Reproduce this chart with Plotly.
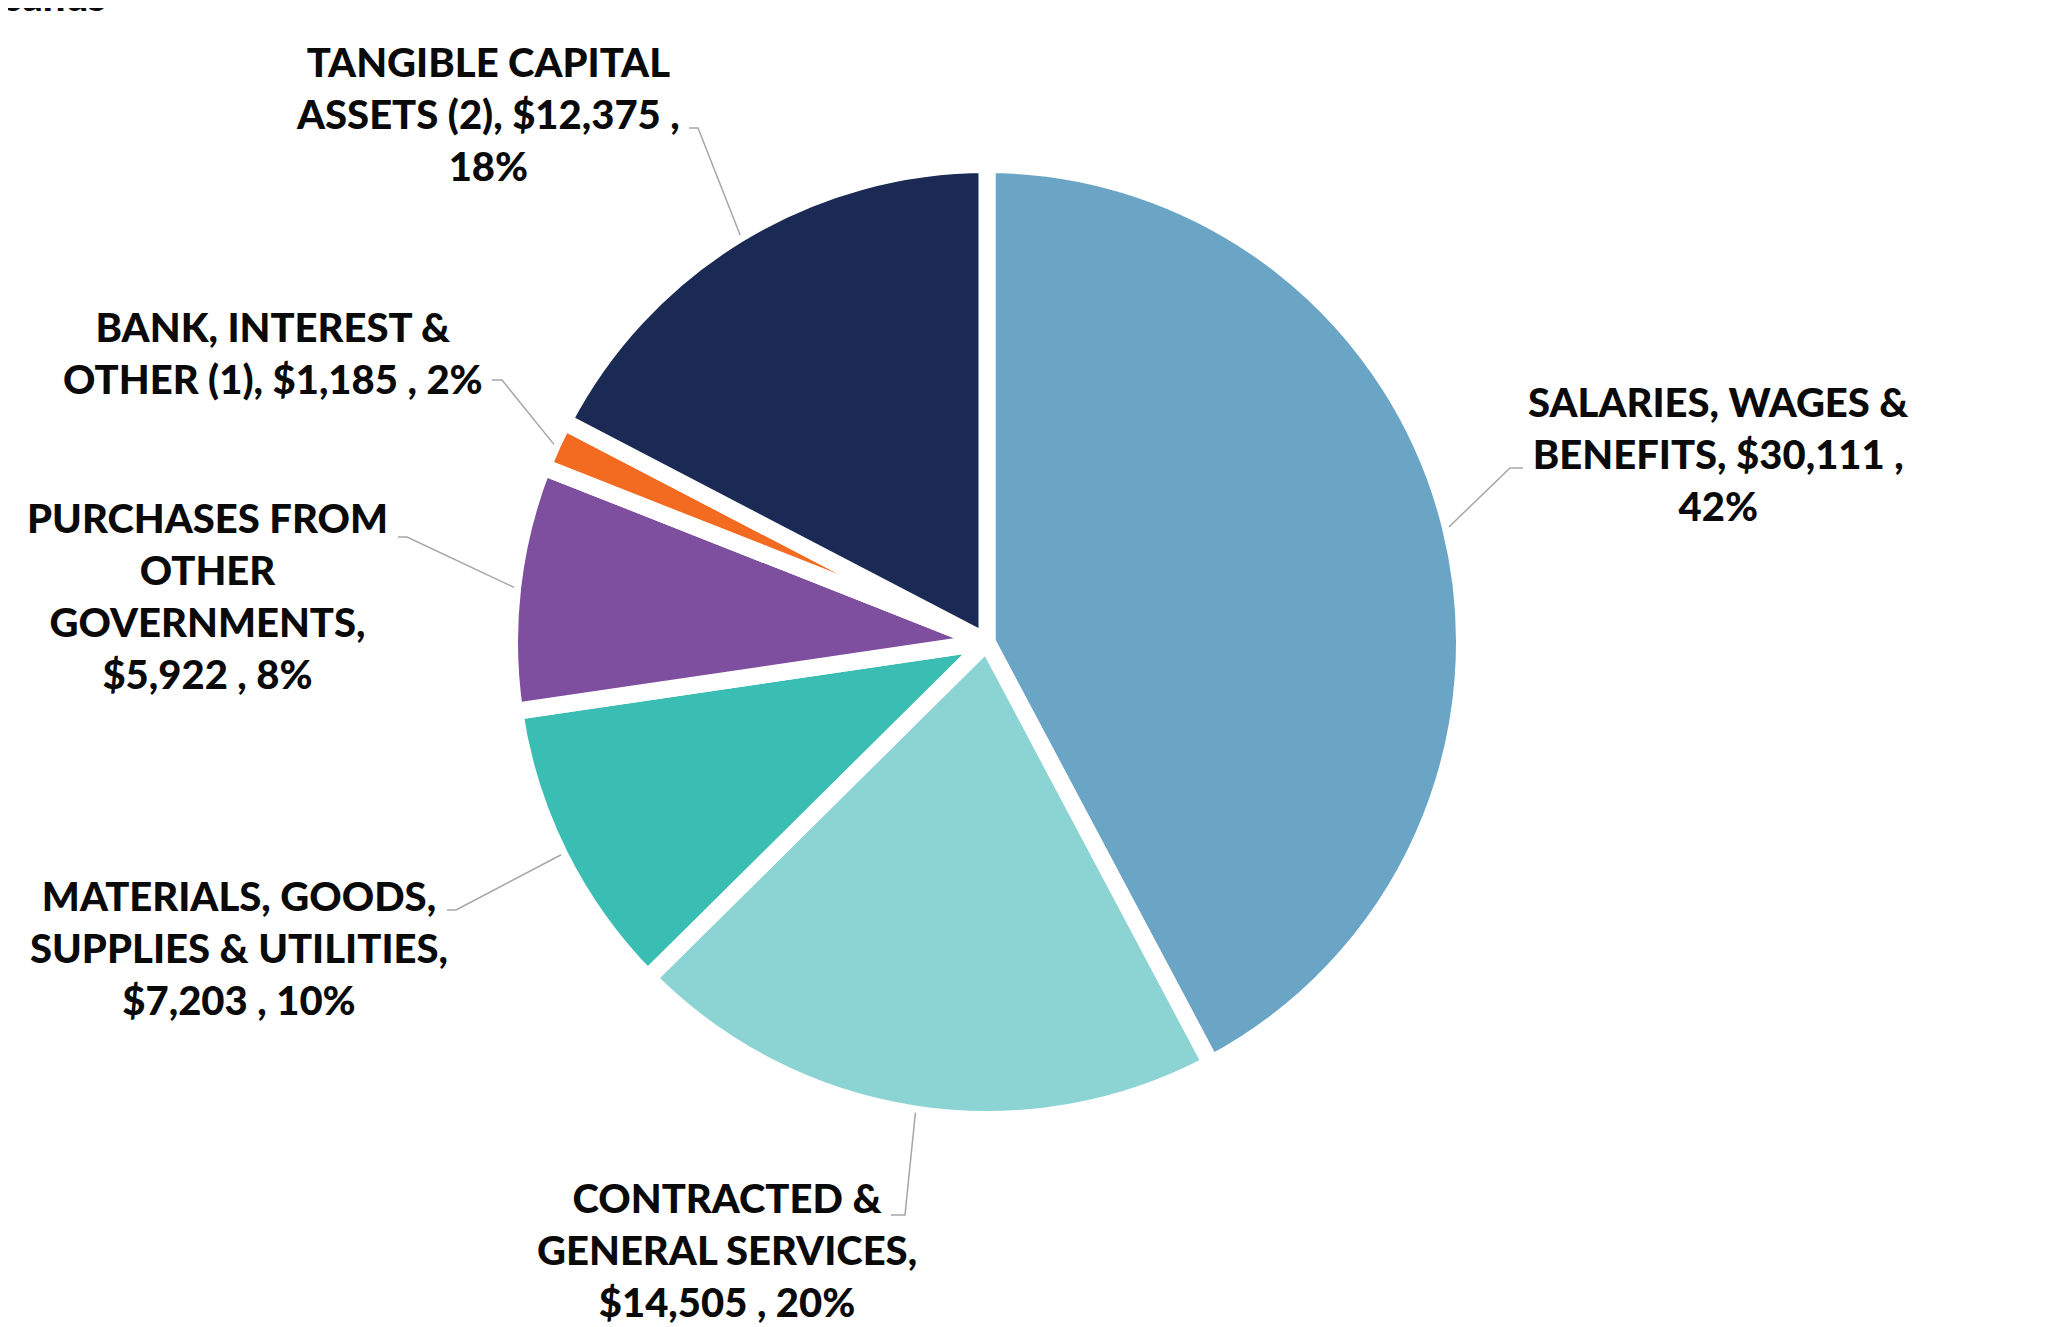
import math
import plotly.graph_objects as go

# expense categories, in thousands of dollars
categories = [
    "SALARIES, WAGES & BENEFITS",
    "CONTRACTED & GENERAL SERVICES",
    "MATERIALS, GOODS, SUPPLIES & UTILITIES",
    "PURCHASES FROM OTHER GOVERNMENTS",
    "BANK, INTEREST & OTHER (1)",
    "TANGIBLE CAPITAL ASSETS (2)",
]
amounts = [30111, 14505, 7203, 5922, 1185, 12375]
percent_labels = ["42%", "20%", "10%", "8%", "2%", "18%"]
label_lines = [
    ["SALARIES, WAGES &", "BENEFITS, $30,111 ,", "42%"],
    ["CONTRACTED &", "GENERAL SERVICES,", "$14,505 , 20%"],
    ["MATERIALS, GOODS,", "SUPPLIES & UTILITIES,", "$7,203 , 10%"],
    ["PURCHASES FROM", "OTHER", "GOVERNMENTS,", "$5,922 , 8%"],
    ["BANK, INTEREST &", "OTHER (1), $1,185 , 2%"],
    ["TANGIBLE CAPITAL", "ASSETS (2), $12,375 ,", "18%"],
]
colors = ["#6BA5C6", "#8CD3D3", "#3ABDB2", "#7D4F9E", "#F26B21", "#1B2A55"]

W, H = 2049, 1327
cx, cy = 979, 634          # pie centre in pixels (from top-left)
r_vis = 469                # visible radius
line_w = 17                # white gap between slices
r_plot = r_vis + line_w / 2

# label centres and leader-line hooks, in pixels
label_pos = [(1710, 446), (719, 1242), (231, 940), (199, 588), (265, 345), (480, 106)]
hooks = [
    [(1515, 460), (1502, 460)],
    [(883, 1207), (897, 1207)],
    [(439, 902), (448, 902)],
    [(390, 529), (399, 529)],
    [(484, 372), (494, 372)],
    [(681, 120), (690, 120)],
]


def px_to_paper(x, y):
    return x / W, 1 - y / H


fig = go.Figure(
    go.Pie(
        labels=categories,
        values=amounts,
        sort=False,
        direction="clockwise",
        rotation=0,
        textinfo="none",
        hoverinfo="label+value+percent",
        marker=dict(colors=colors, line=dict(color="white", width=line_w)),
        showlegend=False,
        domain=dict(
            x=[(cx - r_plot) / W, (cx + r_plot) / W],
            y=[1 - (cy + r_plot) / H, 1 - (cy - r_plot) / H],
        ),
    )
)

total = sum(amounts)
cum = 0
for i, val in enumerate(amounts):
    mid = (cum + val / 2) / total * 2 * math.pi
    cum += val
    ex = cx + (r_vis + 7) * math.sin(mid)
    ey = cy - (r_vis + 7) * math.cos(mid)
    pts = hooks[i] + [(ex, ey)]
    path = ""
    for j, (px, py) in enumerate(pts):
        xp, yp = px_to_paper(px, py)
        path += ("M" if j == 0 else " L") + f" {xp:.5f} {yp:.5f}"
    fig.add_shape(
        type="path", path=path, xref="paper", yref="paper",
        line=dict(color="#A6A6A6", width=1.5),
    )
    lx, ly = px_to_paper(*label_pos[i])
    fig.add_annotation(
        x=lx, y=ly, xref="paper", yref="paper",
        text="<br>".join(label_lines[i]),
        showarrow=False, xanchor="center", yanchor="middle", align="center",
        font=dict(family="Lato", size=40, color="#0A0A0A", weight=900),
    )

# cropped title at the top edge
fig.add_annotation(
    x=100 / W, y=1 - 14 / H, xref="paper", yref="paper",
    text="in Thousands", showarrow=False, xanchor="right", yanchor="bottom",
    font=dict(family="Lato", size=40, color="#0A0A0A", weight=900),
)

fig.update_layout(
    width=W, height=H,
    margin=dict(l=0, r=0, t=0, b=0),
    paper_bgcolor="white",
    plot_bgcolor="white",
)

fig.write_html("out.html")
